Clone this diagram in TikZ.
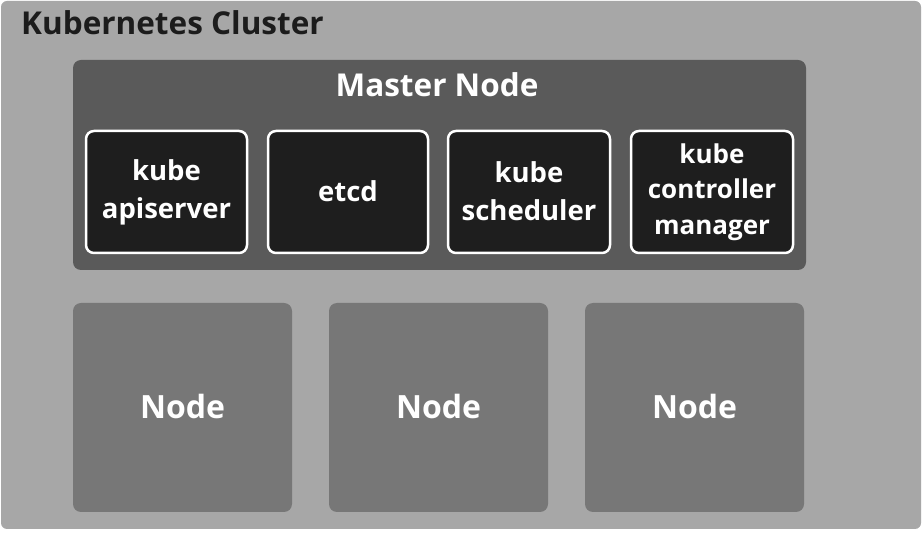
\documentclass[tikz,border=0pt]{standalone}
\usepackage{fontspec}
\setmainfont{Open Sans}
\begin{document}
\begin{tikzpicture}[x=1pt,y=-1pt,
  cluster/.style={fill=clusterc, rounded corners=6pt},
  master/.style={fill=masterc, rounded corners=8pt},
  comp/.style={fill=compc, draw=white, line width=2.5pt, rounded corners=8pt, text=white,
     font=\fontsize{27.5}{38}\selectfont\bfseries, align=center, inner sep=0pt},
  worker/.style={fill=nodec, rounded corners=8pt, text=white, font=\fontsize{32}{38}\selectfont\bfseries},
  title/.style={font=\fontsize{31.5}{38}\selectfont\bfseries, inner sep=0pt}
]
\definecolor{clusterc}{HTML}{A7A7A7}
\definecolor{masterc}{HTML}{5A5A5A}
\definecolor{compc}{HTML}{1E1E1E}
\definecolor{nodec}{HTML}{777777}
\definecolor{titlec}{HTML}{1C1C1C}
\useasboundingbox (0,0) rectangle (922,534);
\fill[white] (0,0) rectangle (922,534);
\fill[cluster] (1,1) rectangle (921,529);
\node[title, text=titlec, anchor=base west] (ttl) at (21,35) {Kubernetes Cluster};
\fill[master] (73,60) rectangle (806,270);
\node[title, text=white, anchor=base] (mttl) at (437,97) {Master Node};
\draw[comp] (86,131) rectangle (247,253) node[midway] (api) {kube\\apiserver};
\draw[comp] (268,131) rectangle (428,253) node[midway, yshift=1pt] (etcd) {etcd};
\draw[comp] (448,131) rectangle (610,253) node[midway, yshift=1pt] (sch) {kube\\scheduler};
\draw[comp, font=\fontsize{26}{35.5}\selectfont\bfseries] (631,131) rectangle (793,253) node[midway] (cm) {kube\\controller\\manager};
\fill[worker] (73,303) rectangle (292,512);
\node[worker, fill=none, anchor=base] (n1) at (182.5,419) {Node};
\fill[worker] (329,303) rectangle (548,512);
\node[worker, fill=none, anchor=base] (n2) at (438.5,419) {Node};
\fill[worker] (585,303) rectangle (804,512);
\node[worker, fill=none, anchor=base] (n3) at (694.5,419) {Node};
\end{tikzpicture}
\end{document}
